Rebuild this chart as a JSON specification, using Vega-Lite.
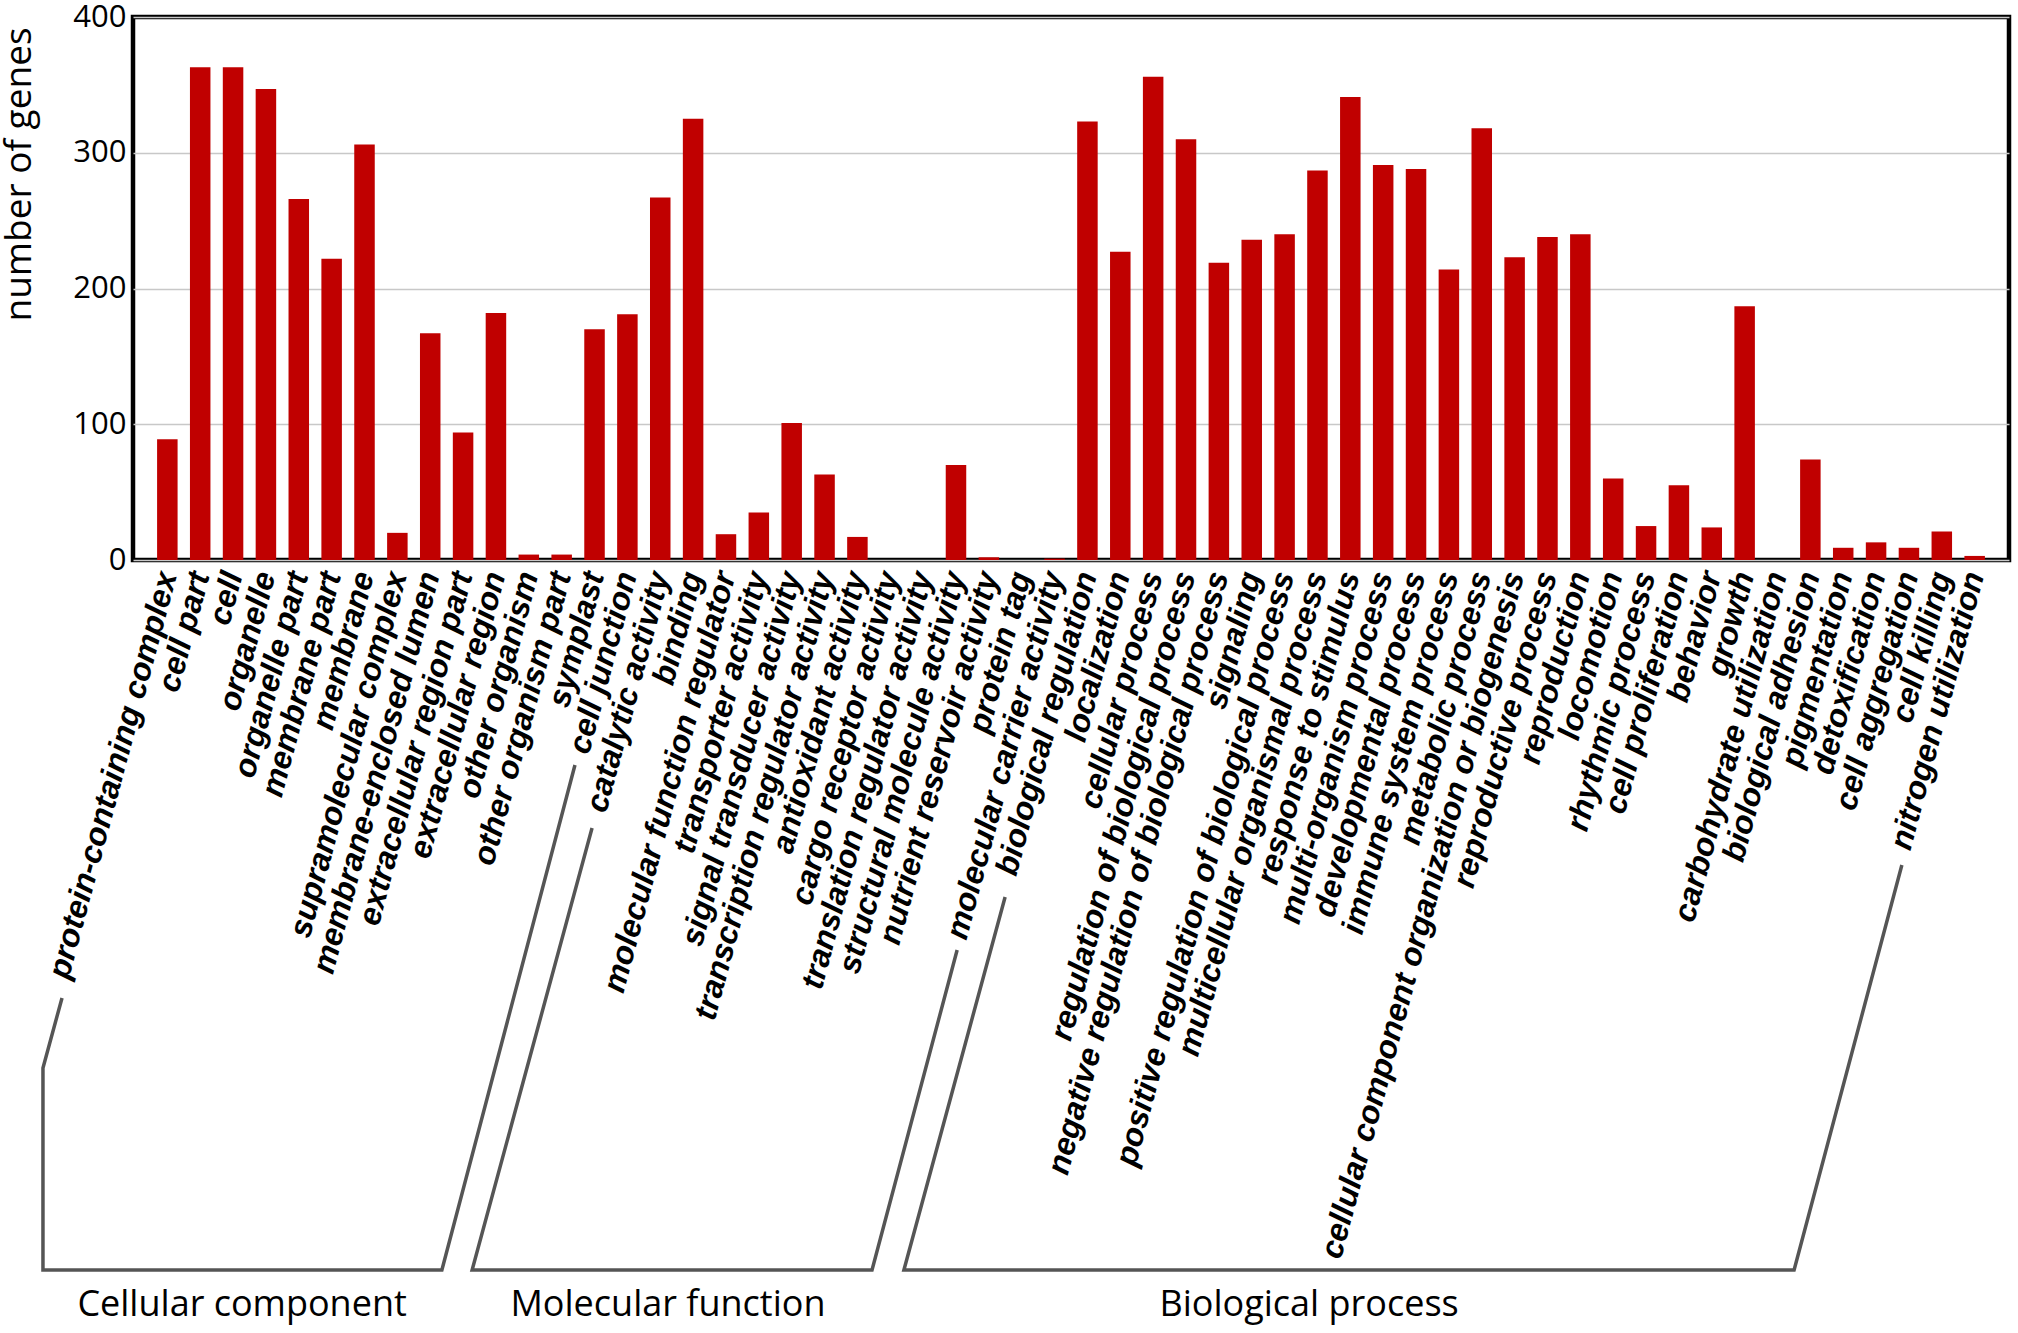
{
  "$schema": "https://vega.github.io/schema/vega-lite/v6.json",
  "width": 1876,
  "height": 543,
  "autosize": {"type": "none"},
  "padding": {"left": 133, "top": 17, "right": 9, "bottom": 773},
  "background": "white",
  "config": {
    "view": {"stroke": "black", "strokeWidth": 4.5},
    "axisX": {
      "labelFont": "Liberation Sans",
      "labelFontWeight": "bold",
      "labelFontStyle": "italic",
      "labelFontSize": 32,
      "labelColor": "black",
      "labelAngle": -75,
      "labelAlign": "right",
      "labelBaseline": "middle",
      "labelPadding": 12,
      "labelLimit": 1000,
      "labelOverlap": false,
      "ticks": false,
      "domain": false,
      "grid": false,
      "title": null
    },
    "axisY": {
      "labelFont": "Open Sans",
      "labelFontSize": 31,
      "labelColor": "black",
      "labelPadding": 7,
      "ticks": false,
      "domain": false,
      "gridColor": "#c8c8c8",
      "gridWidth": 1.5,
      "titleFont": "Open Sans",
      "titleFontSize": 37,
      "titleFontWeight": "normal",
      "titleColor": "black",
      "titleAngle": 270,
      "titleAlign": "center",
      "titleBaseline": "bottom",
      "titleX": -95,
      "titleY": 157
    }
  },
  "resolve": {"scale": {"x": "independent", "y": "independent"}},
  "layer": [
    {
      "data": {
        "values": [
          {"term": "protein-containing complex", "genes": 89},
          {"term": "cell part", "genes": 363},
          {"term": "cell", "genes": 363},
          {"term": "organelle", "genes": 347},
          {"term": "organelle part", "genes": 266},
          {"term": "membrane part", "genes": 222},
          {"term": "membrane", "genes": 306},
          {"term": "supramolecular complex", "genes": 20},
          {"term": "membrane-enclosed lumen", "genes": 167},
          {"term": "extracellular region part", "genes": 94},
          {"term": "extracellular region", "genes": 182},
          {"term": "other organism", "genes": 4},
          {"term": "other organism part", "genes": 4},
          {"term": "symplast", "genes": 170},
          {"term": "cell junction", "genes": 181},
          {"term": "catalytic activity", "genes": 267},
          {"term": "binding", "genes": 325},
          {"term": "molecular function regulator", "genes": 19},
          {"term": "transporter activity", "genes": 35},
          {"term": "signal transducer activity", "genes": 101},
          {"term": "transcription regulator activity", "genes": 63},
          {"term": "antioxidant activity", "genes": 17},
          {"term": "cargo receptor activity", "genes": 0},
          {"term": "translation regulator activity", "genes": 0},
          {"term": "structural molecule activity", "genes": 70},
          {"term": "nutrient reservoir activity", "genes": 2},
          {"term": "protein tag", "genes": 0},
          {"term": "molecular carrier activity", "genes": 1},
          {"term": "biological regulation", "genes": 323},
          {"term": "localization", "genes": 227},
          {"term": "cellular process", "genes": 356},
          {"term": "regulation of biological process", "genes": 310},
          {"term": "negative regulation of biological process", "genes": 219},
          {"term": "signaling", "genes": 236},
          {"term": "positive regulation of biological process", "genes": 240},
          {"term": "multicellular organismal process", "genes": 287},
          {"term": "response to stimulus", "genes": 341},
          {"term": "multi-organism process", "genes": 291},
          {"term": "developmental process", "genes": 288},
          {"term": "immune system process", "genes": 214},
          {"term": "metabolic process", "genes": 318},
          {"term": "cellular component organization or biogenesis", "genes": 223},
          {"term": "reproductive process", "genes": 238},
          {"term": "reproduction", "genes": 240},
          {"term": "locomotion", "genes": 60},
          {"term": "rhythmic process", "genes": 25},
          {"term": "cell proliferation", "genes": 55},
          {"term": "behavior", "genes": 24},
          {"term": "growth", "genes": 187},
          {"term": "carbohydrate utilization", "genes": 0},
          {"term": "biological adhesion", "genes": 74},
          {"term": "pigmentation", "genes": 9},
          {"term": "detoxification", "genes": 13},
          {"term": "cell aggregation", "genes": 9},
          {"term": "cell killing", "genes": 21},
          {"term": "nitrogen utilization", "genes": 3}
        ]
      },
      "mark": {"type": "bar", "color": "#c00000"},
      "encoding": {
        "x": {
          "field": "term",
          "type": "nominal",
          "sort": null,
          "scale": {"paddingInner": 0.376, "paddingOuter": 0.733}
        },
        "y": {
          "field": "genes",
          "type": "quantitative",
          "title": "number of genes",
          "scale": {"domain": [0, 400], "nice": false},
          "axis": {"values": [0, 100, 200, 300, 400]}
        }
      }
    },
    {
      "data": {
        "values": [
          {"group": "Cellular component", "order": 1, "pos": -2.16, "level": -322.6},
          {"group": "Cellular component", "order": 2, "pos": -2.74, "level": -374.2},
          {"group": "Cellular component", "order": 3, "pos": -2.74, "level": -523},
          {"group": "Cellular component", "order": 4, "pos": 9.4, "level": -523},
          {"group": "Cellular component", "order": 5, "pos": 13.45, "level": -151},
          {"group": "Molecular function", "order": 1, "pos": 13.97, "level": -197.4},
          {"group": "Molecular function", "order": 2, "pos": 10.32, "level": -523},
          {"group": "Molecular function", "order": 3, "pos": 22.49, "level": -523},
          {"group": "Molecular function", "order": 4, "pos": 25.08, "level": -287.3},
          {"group": "Biological process", "order": 1, "pos": 26.54, "level": -248.2},
          {"group": "Biological process", "order": 2, "pos": 23.46, "level": -523},
          {"group": "Biological process", "order": 3, "pos": 50.55, "level": -523},
          {"group": "Biological process", "order": 4, "pos": 53.83, "level": -224.7}
        ]
      },
      "mark": {"type": "line", "color": "#555555", "strokeWidth": 3.5, "strokeJoin": "miter", "clip": false},
      "encoding": {
        "x": {"field": "pos", "type": "quantitative", "scale": {"domain": [0, 57.09], "nice": false, "zero": false}, "axis": null},
        "y": {"field": "level", "type": "quantitative", "scale": {"domain": [0, 400], "nice": false}, "axis": null},
        "detail": {"field": "group", "type": "nominal"},
        "order": {"field": "order", "type": "quantitative"}
      }
    },
    {
      "data": {
        "values": [
          {"group": "Cellular component", "pos": 3.32, "level": -557},
          {"group": "Molecular function", "pos": 16.28, "level": -557},
          {"group": "Biological process", "pos": 35.79, "level": -557}
        ]
      },
      "mark": {"type": "text", "font": "Open Sans", "fontSize": 36, "color": "black", "align": "center", "baseline": "alphabetic", "clip": false},
      "encoding": {
        "x": {"field": "pos", "type": "quantitative", "scale": {"domain": [0, 57.09], "nice": false, "zero": false}, "axis": null},
        "y": {"field": "level", "type": "quantitative", "scale": {"domain": [0, 400], "nice": false}, "axis": null},
        "text": {"field": "group", "type": "nominal"}
      }
    }
  ]
}
